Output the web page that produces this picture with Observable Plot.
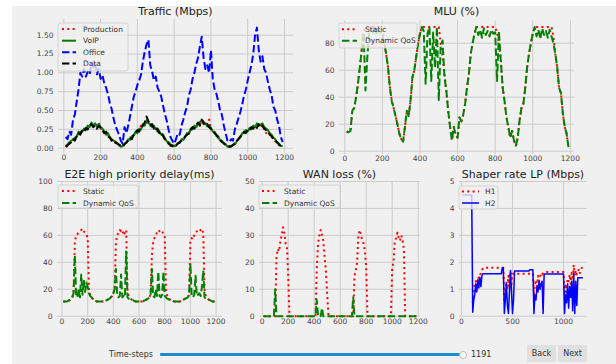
<!DOCTYPE html>
<html><head><meta charset="utf-8">
<script src="https://cdn.jsdelivr.net/npm/d3@7"></script>
<script src="https://cdn.jsdelivr.net/npm/@observablehq/plot@0.6"></script>
<style>
html,body{margin:0;padding:0;background:#fff;width:616px;height:364px;overflow:hidden;font-family:"DejaVu Sans",sans-serif;}
#fig{position:absolute;left:12px;top:6px;width:604px;height:358px;background:#f0f0f0;}
#root{position:absolute;left:0;top:0;width:616px;height:364px;}
#root svg{position:absolute;left:0;top:0;}
.wtxt{position:absolute;font-size:8px;color:#333;line-height:10px;}
#track{position:absolute;left:160px;top:353px;width:303px;height:3px;background:#1f8ad2;border-radius:1px;}
#knob{position:absolute;left:459px;top:350.5px;width:8px;height:8px;border-radius:50%;background:#fff;border:1px solid #b8b8b8;box-sizing:border-box;}
.btn{position:absolute;top:345px;height:17px;background:#e0e0e0;font-size:8px;color:#333;text-align:center;line-height:17px;}
</style></head><body>
<div id="fig"></div>
<div id="root"></div>
<div class="wtxt" style="left:100px;top:350px;width:53px;text-align:right;">Time-steps</div>
<div id="track"></div>
<div id="knob"></div>
<div class="wtxt" style="left:471px;top:350px;">1191</div>
<div class="btn" style="left:527px;width:29px;">Back</div>
<div class="btn" style="left:558px;width:29px;">Next</div>
<script>
// ---------------- data (sampled every STEP time-steps, starting at t = STEP) ----------------
const STEP = 10;
const xTicks = [0, 200, 400, 600, 800, 1000, 1200];
const xTicksShaper = [0, 500, 1000];
const trafficTicks = [0, 0.25, 0.5, 0.75, 1.0, 1.25, 1.5];
const mluTicks = [0, 20, 40, 60, 80];
const delayTicks = [0, 20, 40, 60, 80, 100];
const lossTicks = [0, 10, 20, 30, 40, 50];
const shaperTicks = [0, 1, 2, 3, 4, 5];

const office = [0.15,0.12,0.22,0.18,0.38,0.45,0.62,0.78,1.0,0.95,
1.05,0.95,1.02,0.98,1.12,1.08,1.15,0.98,1.05,0.92,
0.97,0.86,0.8,0.72,0.6,0.52,0.4,0.3,0.24,0.18,
0.1,0.06,0.28,0.2,0.3,0.42,0.55,0.68,0.75,0.84,
0.9,0.98,1.15,1.28,1.38,1.44,1.1,1.02,0.9,0.95,
0.8,0.75,0.68,0.56,0.45,0.36,0.24,0.15,0.1,0.06,
0.12,0.2,0.18,0.3,0.38,0.48,0.55,0.7,0.78,0.92,
1.0,1.12,1.2,1.35,1.48,1.2,1.05,1.1,1.0,1.3,
0.92,0.78,0.72,0.62,0.5,0.44,0.3,0.2,0.1,0.08,
0.12,0.1,0.25,0.32,0.4,0.48,0.58,0.7,0.78,0.9,
1.0,1.1,1.25,1.5,1.6,1.3,1.15,1.22,1.05,1.0,
0.88,0.78,0.7,0.55,0.5,0.38,0.3,0.15,0.08];
const dataTr = [0.02,0.04,0.06,0.08,0.12,0.1,0.16,0.2,0.18,0.24,
0.22,0.27,0.25,0.3,0.32,0.28,0.3,0.26,0.3,0.27,
0.24,0.2,0.22,0.16,0.14,0.1,0.12,0.08,0.06,0.05,
0.03,0.02,0.05,0.08,0.1,0.14,0.12,0.18,0.2,0.24,
0.22,0.28,0.3,0.34,0.42,0.36,0.3,0.32,0.26,0.28,
0.24,0.2,0.22,0.16,0.12,0.1,0.06,0.04,0.03,0.02,
0.04,0.06,0.08,0.1,0.12,0.16,0.18,0.2,0.24,0.28,
0.26,0.3,0.34,0.3,0.38,0.34,0.3,0.32,0.28,0.26,
0.24,0.2,0.18,0.14,0.12,0.08,0.07,0.04,0.03,0.02,
0.03,0.04,0.06,0.1,0.12,0.16,0.18,0.22,0.2,0.25,
0.24,0.28,0.26,0.3,0.27,0.32,0.28,0.3,0.26,0.24,
0.22,0.18,0.16,0.12,0.1,0.08,0.05,0.03,0.02];
const voip = [0.03,0.05,0.08,0.1,0.11,0.14,0.15,0.22,0.2,0.22,
0.26,0.24,0.3,0.28,0.34,0.3,0.33,0.29,0.32,0.28,
0.26,0.22,0.18,0.2,0.15,0.12,0.1,0.09,0.07,0.04,
0.02,0.03,0.06,0.07,0.12,0.11,0.16,0.17,0.22,0.2,
0.26,0.25,0.32,0.3,0.36,0.33,0.32,0.28,0.3,0.25,
0.26,0.22,0.18,0.18,0.13,0.09,0.08,0.05,0.04,0.03,
0.03,0.07,0.07,0.12,0.11,0.15,0.2,0.19,0.26,0.25,
0.3,0.28,0.32,0.35,0.36,0.32,0.33,0.29,0.3,0.27,
0.22,0.22,0.16,0.16,0.1,0.1,0.06,0.05,0.02,0.03,
0.02,0.05,0.05,0.09,0.13,0.14,0.2,0.2,0.24,0.22,
0.27,0.25,0.3,0.28,0.33,0.3,0.31,0.33,0.28,0.26,
0.24,0.2,0.18,0.14,0.12,0.07,0.06,0.03,0.03];
const production = [0.02,0.03,0.07,0.09,0.1,0.13,0.17,0.19,0.22,0.21,
0.25,0.26,0.27,0.31,0.3,0.31,0.28,0.31,0.34,0.26,
0.25,0.21,0.2,0.17,0.15,0.11,0.11,0.07,0.07,0.04,
0.03,0.02,0.06,0.08,0.1,0.13,0.14,0.17,0.21,0.22,
0.24,0.3,0.3,0.33,0.38,0.35,0.31,0.3,0.27,0.27,
0.22,0.21,0.19,0.17,0.11,0.1,0.07,0.03,0.04,0.02,
0.05,0.05,0.09,0.1,0.13,0.15,0.19,0.21,0.24,0.27,
0.28,0.31,0.33,0.31,0.37,0.35,0.31,0.33,0.38,0.25,
0.23,0.2,0.19,0.13,0.12,0.09,0.07,0.05,0.02,0.02,
0.03,0.04,0.07,0.09,0.12,0.15,0.19,0.21,0.22,0.24,
0.25,0.27,0.28,0.29,0.3,0.31,0.27,0.31,0.25,0.2,
0.23,0.19,0.15,0.13,0.09,0.08,0.04,0.03,0.02];

const mluDynamic = [14.6,14,15,30,32,40,50,62,75,88,
45,70,88,90,88,92,86,90,88,85,
80,72,62,47,37,32,26,20,13,9,
7,18,30,26,38,55,60,70,80,87,
92,89,50,87,92,52,88,62,92,38,
78,82,55,45,30,18,8,18,12,10,
25,22,27,35,47,57,72,80,87,92,
86,90,84,91,86,89,85,90,87,88,
52,89,67,47,37,25,18,10,15,8,
4,10,23,32,35,47,62,72,80,87,
92,85,90,83,91,86,89,84,90,85,
80,72,62,47,43,28,18,13,3];
const mluStatic = [14.6,14,15,30,32,40,50,62,75,88,
92,92,92,92,92,92,92,92,92,90,
82,72,62,47,37,32,26,20,13,9,
7,18,30,26,38,55,60,70,80,87,
92,92,92,92,92,92,92,92,92,92,
80,70,58,45,30,18,8,18,12,10,
25,22,27,35,47,57,72,80,87,92,
92,92,92,92,92,92,92,92,92,92,
88,80,67,47,37,25,18,10,15,8,
4,10,23,32,35,47,62,72,80,87,
92,92,92,92,92,92,92,92,92,92,
85,72,62,47,43,28,18,13,3];

const delayStatic = [11,11,11,11,11.5,12,12.5,14,17,55,
60,61,62,63,64,65,63,62,61,58,
20,16,14,13,12,11.5,11,11,11,11,
11,11,11,11.5,12,12.5,13,14,15,17,
20,55,60,62,64,63,64,60,62,64,
18,15,13.5,12.5,12,11.5,11,11,11,11,
11,11,11,11.5,12,12.5,13,14,16,45,
55,58,60,62,64,63,62,63,61,60,
18,15,13,12.5,12,11.5,11,11,11,11,
11,11,11.5,12,12.5,13,13.5,14,16,55,
58,57,60,62,63,64,63,64,65,62,
20,15,13.5,12.5,12,11.5,11,11,11];
const delayDynamic = [11,11,11,11,11.5,12,12.5,14,17,45,
15,14,20,14,31,16,27,18,25,22,
17,15,14,13,12,11.5,11,11,11,11,
11,11,11,11.5,12,12.5,13,14,15,17,
20,35,15,14,15,31,14,15,14,48,
14,13,12.5,12,12,11.5,11,11,11,11,
11,11,11,11.5,12,12.5,13,14,16,35,
15,14,20,15,33,15,14,16,33,15,
14,13,12.5,12,12,11.5,11,11,11,11,
11,11,11.5,12,12.5,13,13.5,14,16,39,
15,14,16,30,15,16,17,15,22,34,
14,13,12.5,12,12,11.5,11,11,11];

const lossStatic = [0,0,0,0,0,0,0,0,0,0,
22,25,24,28,30,33,31,27,26,15,
0,0,0,0,0,0,0,0,0,0,
0,0,0,0,0,0,0,0,0,0,
0,18,27,30,32,30,28,22,17,8,
0,0,0,0,0,0,0,0,0,0,
0,0,0,0,0,0,0,0,0,0,
15,17,20,30,32,30,28,27,24,18,
0,0,0,0,0,0,0,0,0,0,
0,0,0,0,0,0,0,0,0,18,
20,28,29,31,29,28,30,28,25,0,
0,0,0,0,0,0,0,0,0];
const lossDynamic = [0,0,0,0,0,0,0,0,0,10,
0,0,0,0,0,0,0,0,0,0,
0,0,0,0,0,0,0,0,0,0,
0,0,0,0,0,0,0,0,0,0,
0,6,0,0,0,3,0,0,0,0,
0,0,0,0,0,0,0,0,0,0,
0,0,0,0,0,0,0,0,0,7,
0,0,0,0,0,0,0,0,0,0,
0,0,0,0,0,0,0,0,0,0,
0,0,0,0,0,0,0,0,0,0,
0,0,0,0,0,0,0,0,0,0,
0,0,0,0,0,0,0,0,0];

const shaperH1 = [null,null,null,null,null,null,null,null,null,null,
0.5,0.9,1.25,1.3,1.2,1.45,1.4,1.5,1.6,1.7,
1.78,1.8,1.8,1.8,1.8,1.8,1.8,1.8,1.8,1.8,
1.8,1.8,1.8,1.8,1.8,1.8,1.8,1.8,1.8,1.8,
1.8,0.6,0.9,1.3,1.0,1.5,1.1,1.65,1.2,1.58,
1.58,1.58,1.58,1.58,1.58,1.58,1.58,1.58,1.58,1.58,
1.58,1.58,1.58,1.58,1.58,1.58,1.58,1.58,1.58,1.58,
0.8,1.2,1.35,1.1,1.5,1.3,1.45,1.6,1.55,1.6,
1.64,1.64,1.64,1.64,1.64,1.64,1.64,1.64,1.64,1.64,
1.64,1.64,1.64,1.64,1.64,1.64,1.64,1.64,1.64,1.64,
0.8,1.2,0.9,1.4,1.3,1.55,1.2,1.6,1.35,1.9,
1.5,1.7,1.55,1.6,1.75,1.6,1.7,1.8,1.8];
const shaperH2 = [4.5,4.5,4.5,4.5,4.5,4.5,4.5,4.5,4.5,4.5,
0.15,0.6,0.8,1.2,0.9,1.35,1.05,1.45,1.1,1.5,
1.58,1.58,1.58,1.58,1.58,1.58,1.58,1.58,1.58,1.58,
1.58,1.58,1.58,1.58,1.58,1.58,1.58,1.58,1.58,1.8,
1.8,0.1,0.6,1.2,0.4,0.1,0.9,1.7,0.9,0.1,
0.6,1.68,1.68,1.68,1.68,1.68,1.68,1.68,1.68,1.68,
1.68,1.68,1.68,1.68,1.68,1.68,1.72,1.72,1.72,1.72,
0.1,0.8,0.6,1.1,0.9,1.3,1.0,1.2,1.3,0.1,
1.57,1.57,1.57,1.57,1.57,1.57,1.57,1.57,1.57,1.57,
1.57,1.57,1.57,1.57,1.57,1.57,1.57,1.57,1.57,1.57,
0.1,0.8,0.5,1.2,0.3,1.1,0.7,1.3,0.2,1.6,
0.1,1.3,0.4,1.43,1.43,1.43,1.43,1.43,1.43];

// ---------------- drawing ----------------
const W = 616, H = 364;
const FONT = "DejaVu Sans";
const rows = (arr) => arr.map((v, i) => ({t: (i + 1) * STEP, v}));
const DOT = "2,3.3", DASH = "7.4,3.2";
const root = document.getElementById("root");

function panel(cfg) {
  const grid = {stroke: "#cbcbcb", strokeOpacity: 1, strokeWidth: 1};
  const svg = Plot.plot({
    width: W, height: H,
    marginLeft: cfg.x0, marginRight: W - cfg.x1, marginTop: cfg.y0, marginBottom: H - cfg.y1,
    style: {background: "transparent", fontFamily: FONT, fontSize: "7.5px", color: "#444", overflow: "visible"},
    x: {domain: cfg.xdom},
    y: {domain: cfg.ydom},
    marks: [
      Plot.gridY(cfg.yticks, grid),
      Plot.gridX(cfg.xticks, grid),
      Plot.axisX(cfg.xticks, {tickSize: 0, tickPadding: cfg.xpad, label: null, tickFormat: d => String(d)}),
      Plot.axisY(cfg.yticks, {tickSize: 0, tickPadding: 5, label: null, tickFormat: cfg.yfmt}),
      ...cfg.series.map(s => Plot.line(rows(s.data), {
        x: "t", y: "v", stroke: s.color, strokeWidth: s.width || 2,
        strokeDasharray: s.dash || null, strokeLinejoin: "round", strokeLinecap: "butt"
      }))
    ]
  });
  const g = d3.select(svg);
  g.append("text").attr("x", (cfg.x0 + cfg.x1) / 2).attr("y", cfg.titleY)
    .attr("text-anchor", "middle").attr("font-size", 11).attr("font-family", FONT)
    .attr("fill", "#222").text(cfg.title);
  const L = cfg.legend;
  const lg = g.append("g");
  lg.append("rect").attr("x", L.x).attr("y", L.y).attr("width", L.w).attr("height", L.h)
    .attr("rx", 2).attr("fill", "#f0f0f0").attr("fill-opacity", 0.8).attr("stroke", "#cccccc").attr("stroke-width", 0.8);
  cfg.series.forEach((s, i) => {
    const yy = L.rowY[i];
    lg.append("line").attr("x1", L.sx0).attr("x2", L.sx1).attr("y1", yy).attr("y2", yy)
      .attr("stroke", s.color).attr("stroke-width", s.width || 2)
      .attr("stroke-dasharray", s.dash || null);
    lg.append("text").attr("x", L.tx).attr("y", yy).attr("dy", "0.35em").attr("text-anchor", "start")
      .attr("font-size", 7.5).attr("font-family", FONT).attr("fill", "#333").text(s.label);
  });
  root.appendChild(svg);
}

panel({
  title: "Traffic (Mbps)", titleY: 15,
  x0: 58, x1: 293, y0: 19, y1: 153, xdom: [-29, 1249], ydom: [-0.07, 1.708], xpad: 1.5,
  xticks: xTicks, yticks: trafficTicks, yfmt: d => d.toFixed(2),
  series: [
    {label: "Production", data: production, color: "#ff0000", dash: DOT},
    {label: "VoIP", data: voip, color: "#008000"},
    {label: "Office", data: office, color: "#0000ff", dash: DASH},
    {label: "Data", data: dataTr, color: "#000000", dash: DASH}
  ],
  legend: {x: 58, y: 23, w: 70, h: 48, rowY: [29, 40.7, 52.3, 63.5], sx0: 62, sx1: 76, tx: 83}
});
panel({
  title: "MLU (%)", titleY: 15,
  x0: 339, x1: 574, y0: 20.4, y1: 154, xdom: [-28.2, 1222], ydom: [-2.45, 96.5], xpad: 1.5,
  xticks: xTicks, yticks: mluTicks, yfmt: d => String(d),
  series: [
    {label: "Static", data: mluStatic, color: "#ff0000", dash: DOT},
    {label: "Dynamic QoS", data: mluDynamic, color: "#008000", dash: DASH}
  ],
  legend: {x: 339, y: 23, w: 78, h: 25, rowY: [29.3, 40.7], sx0: 342, sx1: 357, tx: 365}
});
panel({
  title: "E2E high priority delay(ms)", titleY: 177.5,
  x0: 57, x1: 222, y0: 181, y1: 315.7, xdom: [-35, 1250], ydom: [0, 100], xpad: 2.6,
  xticks: xTicks, yticks: delayTicks, yfmt: d => String(d),
  series: [
    {label: "Static", data: delayStatic, color: "#ff0000", dash: DOT},
    {label: "Dynamic QoS", data: delayDynamic, color: "#008000", dash: DASH}
  ],
  legend: {x: 58, y: 185, w: 80, h: 23, rowY: [191, 203], sx0: 62, sx1: 76, tx: 83}
});
panel({
  title: "WAN loss (%)", titleY: 177.5,
  x0: 259, x1: 420, y0: 181, y1: 315.7, xdom: [-20.8, 1217.7], ydom: [0, 50], xpad: 2.6,
  xticks: xTicks, yticks: lossTicks, yfmt: d => String(d),
  series: [
    {label: "Static", data: lossStatic, color: "#ff0000", dash: DOT},
    {label: "Dynamic QoS", data: lossDynamic, color: "#008000", dash: DASH}
  ],
  legend: {x: 259, y: 185, w: 81, h: 23, rowY: [191, 203], sx0: 262, sx1: 277, tx: 284}
});
panel({
  title: "Shaper rate LP (Mbps)", titleY: 177.5,
  x0: 459, x1: 587, y0: 181, y1: 315.7, xdom: [-19.6, 1235], ydom: [0, 5], xpad: 2.6,
  xticks: xTicksShaper, yticks: shaperTicks, yfmt: d => String(d),
  series: [
    {label: "H1", data: shaperH1, color: "#ff0000", dash: DOT},
    {label: "H2", data: shaperH2, color: "#0000ff", width: 1.5}
  ],
  legend: {x: 459, y: 186, w: 39, h: 23, rowY: [191.5, 203], sx0: 462, sx1: 479, tx: 485}
});
</script>
</body></html>
